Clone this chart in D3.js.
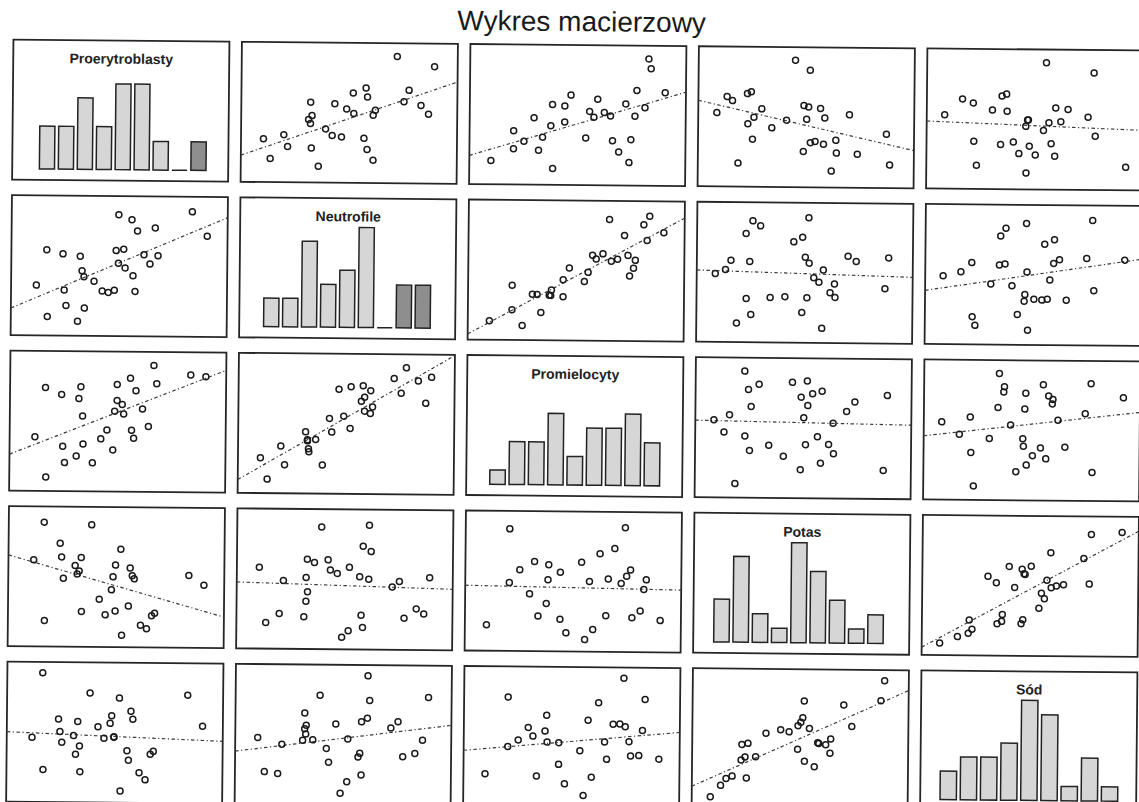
<!DOCTYPE html>
<html>
<head>
<meta charset="utf-8">
<script src="https://cdn.jsdelivr.net/npm/d3@7"></script>
<style>
  body { margin: 0; background: #fff; }
  svg { display: block; font-family: "Liberation Sans", Arial, sans-serif; }
</style>
</head>
<body>
<svg id="chart" width="1139" height="802"></svg>
<script>
// values, on a 0-100 scale of each variable's axis
const variables = ['Proerytroblasty', 'Neutrofile', 'Promielocyty', 'Potas', 'Sód'];

const proerytroblasty = [90.6, 83.6, 67.9, 66.5, 64.2, 61.4, 58.3, 57.4, 56.4, 55.7,
  52.7, 52.0, 49.6, 49.6, 48.5, 47.8, 45.0, 42.2, 38.4, 34.0,
  33.7, 32.8, 31.9, 30.9, 25.5, 24.6, 23.9, 16.9, 16.4, 11.7];
const neutrofile = [72.0, 89.3, 57.7, 77.6, 51.8, 58.4, 75.3, 32.1, 43.3, 83.2,
  48.8, 62.1, 52.1, 86.7, 61.1, 32.8, 31.2, 32.1, 39.1, 19.8,
  42.2, 46.5, 56.9, 10.4, 21.6, 32.6, 58.4, 13.6, 61.2, 35.9];
const promielocyty = [82.7, 83.8, 77.3, 90.4, 46.8, 59.2, 72.2, 38.3, 44.0, 81.1,
  55.5, 62.3, 76.5, 65.2, 57.5, 29.8, 44.0, 37.6, 20.4, 33.8,
  53.8, 74.7, 66.2, 25.2, 20.4, 32.0, 69.1, 10.0, 73.9, 38.6];
const potas = [44.8, 51.7, 24.5, 22.7, 13.3, 15.8, 48.9, 51.1, 56.6, 29.4,
  8.6, 70.0, 58.6, 25.8, 50.2, 40.9, 23.0, 34.1, 87.2, 25.2,
  63.8, 54.2, 52.0, 58.1, 48.8, 64.1, 73.8, 18.6, 88.8, 61.8];
const sod = [55.2, 77.3, 36.9, 34.8, 16.5, 21.5, 59.7, 65.4, 30.4, 37.2,
  8.3, 74.7, 47.1, 46.7, 62.1, 56.6, 45.9, 54.1, 78.1, 21.9,
  40.2, 57.7, 34.3, 47.6, 42.8, 50.4, 59.4, 23.2, 92.3, 46.2];

const columns = [proerytroblasty, neutrofile, promielocyty, potas, sod];
const binCount = 9;

// bars that came out darker on the print
const shadedBins = { 0: [8], 1: [7, 8] };

const width = 1139, height = 802;
const panelW = 216, panelH = 140;
const stepX = 228.5, stepY = 155.5;
const originX = 10, originY = 45;

const svg = d3.select('#chart');
const root = svg.append('g')
  .attr('transform', `rotate(0.55 ${width / 2} ${height / 2})`);

root.append('text')
  .attr('x', 578)
  .attr('y', 31)
  .attr('text-anchor', 'middle')
  .attr('font-size', 28)
  .attr('fill', '#1a1a1a')
  .text('Wykres macierzowy');

const x = d3.scaleLinear().domain([0, 100]).range([0, panelW]);
const y = d3.scaleLinear().domain([0, 100]).range([panelH, 0]);

const histograms = columns.map(values => {
  const [lo, hi] = d3.extent(values);
  const step = (hi - lo) / binCount;
  return d3.bin()
    .domain([lo, hi])
    .thresholds(d3.range(1, binCount).map(i => lo + i * step))(values);
});

const maxCount = d3.max(histograms, bins => d3.max(bins, b => b.length));
const count = d3.scaleLinear().domain([0, maxCount]).range([panelH - 11, 29]);

function fit(xs, ys) {
  const mx = d3.mean(xs), my = d3.mean(ys);
  let sxy = 0, sxx = 0;
  xs.forEach((v, i) => {
    sxy += (v - mx) * (ys[i] - my);
    sxx += (v - mx) * (v - mx);
  });
  const slope = sxy / sxx;
  return { slope, intercept: my - slope * mx };
}

const defs = svg.append('defs');
defs.append('clipPath').attr('id', 'panel-clip')
  .append('rect').attr('width', panelW).attr('height', panelH);

variables.forEach((rowName, r) => {
  variables.forEach((colName, c) => {
    const g = root.append('g')
      .attr('transform', `translate(${originX + c * stepX},${originY + r * stepY})`);

    g.append('rect')
      .attr('width', panelW)
      .attr('height', panelH)
      .attr('fill', '#fff')
      .attr('stroke', '#262626')
      .attr('stroke-width', 1.8);

    if (r === c) {
      const bins = histograms[c];
      const shaded = shadedBins[c] || [];
      g.selectAll('path.bar')
        .data(bins)
        .join('path')
        .attr('class', 'bar')
        .attr('d', b => {
          const x0 = x(b.x0) + 1.9, x1 = x(b.x1) - 1.9;
          return `M${x0},${count(0)}V${count(b.length)}H${x1}V${count(0)}Z`;
        })
        .attr('fill', (b, i) => shaded.includes(i) ? '#8e8e8e' : '#d6d6d6')
        .attr('stroke', '#222')
        .attr('stroke-width', 1.5);

      g.append('text')
        .attr('x', panelW / 2)
        .attr('y', 23)
        .attr('text-anchor', 'middle')
        .attr('font-size', 14)
        .attr('font-weight', 'bold')
        .attr('fill', '#222')
        .text(colName);
      return;
    }

    const xs = columns[c], ys = columns[r];
    const line = fit(xs, ys);
    const plot = g.append('g').attr('clip-path', 'url(#panel-clip)');

    plot.append('line')
      .attr('x1', x(0))
      .attr('y1', y(line.intercept))
      .attr('x2', x(100))
      .attr('y2', y(line.intercept + line.slope * 100))
      .attr('stroke', '#3a3a3a')
      .attr('stroke-width', 1.2)
      .attr('stroke-dasharray', '3.5,2.5,1.2,2.5');

    plot.selectAll('circle')
      .data(xs.map((v, i) => [v, ys[i]]))
      .join('circle')
      .attr('cx', d => x(d[0]))
      .attr('cy', d => y(d[1]))
      .attr('r', 3)
      .attr('fill', 'none')
      .attr('stroke', '#1a1a1a')
      .attr('stroke-width', 1.5);
  });
});
</script>
</body>
</html>
